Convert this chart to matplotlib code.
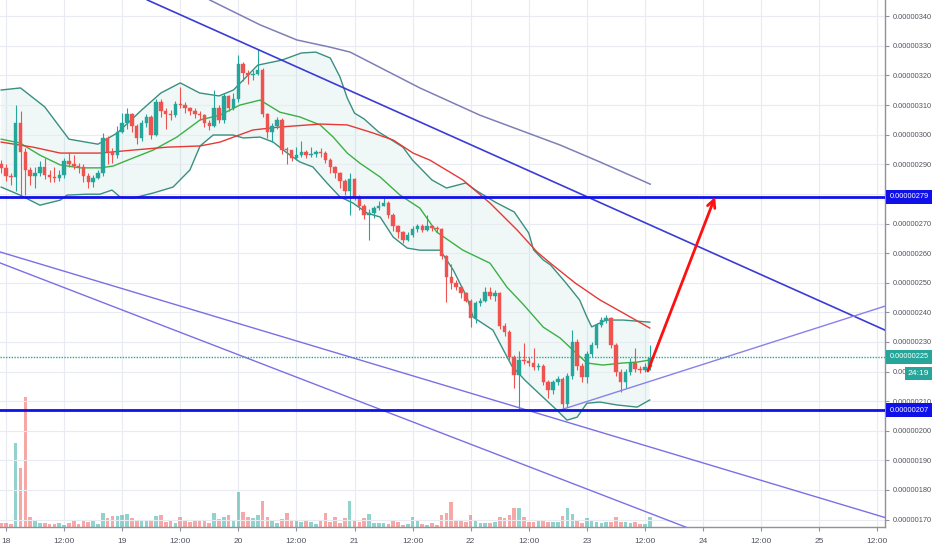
import numpy as np
import matplotlib
matplotlib.use('Agg')
import matplotlib.pyplot as plt
import matplotlib.transforms as mtrans

# prices in units of 1e-8, hours counted from day 18 00:00
first_open = 290.0
close = [288.8, 286, 285.8, 304, 294, 288, 286, 287, 289, 286.5,
         285.8, 285.5, 286.5, 291, 290, 289.5, 289, 286, 284, 285.5,
         287, 299, 294, 293, 301, 304, 307, 303, 299, 304,
         306, 300, 311, 308, 307, 306.5, 310.5, 310, 309, 308,
         307, 306.5, 304, 303, 309, 305, 313, 309, 312, 324,
         321, 320, 320.5, 322, 307, 301, 303, 305, 295, 294.8,
         292, 293, 294, 293, 293.5, 294, 293.8, 291.5, 289, 287,
         284.5, 281, 285, 279, 276, 273, 273.5, 275.3, 276, 277,
         273, 269, 267, 264.5, 266, 268, 269, 267.8, 269, 268.5,
         268, 259, 252, 250, 248.5, 246.5, 244, 238, 243, 244,
         247, 245.5, 246.5, 235.5, 233.5, 225, 219, 224, 223.5, 223,
         221.5, 222, 216.5, 213.7, 216.5, 217.5, 209, 218.4, 230, 222,
         218, 226, 229, 235.8, 237.5, 238, 229, 220, 216.5, 220,
         223, 221, 220.5, 221.5, 224.5]
high = [291.5, 290, 287, 310, 308, 295.5, 289, 289, 291, 292,
        288, 289, 288, 292, 294, 293, 290.5, 290, 287, 286.5,
        288, 300.5, 299.5, 295.5, 303, 307.5, 309, 307.5, 303.5, 305,
        307, 306.5, 312, 312, 309, 308.5, 311.5, 316, 311, 309.5,
        309, 308, 307, 305, 315, 310, 314, 313.5, 314, 327,
        324.5, 322, 322, 329, 322.5, 307.5, 304, 306, 305.5, 296,
        295, 296, 298, 295, 296, 295, 295.5, 294.5, 292, 289.5,
        287.5, 285, 287, 285.5, 279.5, 276.5, 275, 276, 277.5, 278.5,
        277.5, 273.5, 269.5, 267.5, 267, 269, 270, 270, 273, 269.5,
        269, 268.5, 259.5, 256.5, 251, 249, 247, 244.5, 244, 245,
        248.5, 248.5, 247.5, 247, 236.5, 234, 225.5, 227, 229.5, 225,
        228, 223, 222.5, 217, 217, 218.5, 218, 219.5, 234, 231,
        223, 227, 230, 236.5, 238.5, 239, 238.5, 229.5, 221, 221,
        224.5, 228, 222, 223, 229]
low = [287, 284.5, 283, 281, 279, 279.5, 283, 282, 286, 285,
       284, 284, 284.5, 285.5, 289, 288.5, 287, 284, 282, 282.5,
       285, 286, 290, 290.5, 292, 300.5, 302, 301, 297, 298,
       302.5, 298.5, 299.5, 306, 302, 305, 306, 309, 307.5, 306.5,
       305.5, 305, 302.5, 301.5, 302.5, 304, 304, 308, 308.5, 311,
       318, 317, 318.5, 320, 306, 299, 297.5, 302, 293.5, 290,
       291, 291.5, 292.5, 292, 292.5, 292.5, 292.5, 290.5, 287, 285.5,
       282, 279.5, 273, 278, 274.5, 271.5, 264.5, 272, 274.5, 276,
       272, 267.5, 265, 263.5, 264, 265.5, 267, 267, 267.5, 267.5,
       267, 258, 243.5, 248, 247.5, 245, 243.5, 235, 236.5, 242,
       243.5, 244.5, 244, 234.5, 232, 224, 214.5, 207, 222.5, 222,
       220.5, 220.5, 215.5, 211, 212.5, 215.5, 207, 208, 217.5, 220.5,
       216.5, 216, 225, 228, 235, 236.5, 228, 218.5, 213, 214.5,
       219, 220, 219.5, 220, 220.5]
volume = [4.3, 3.7, 3, 83.7, 58.7, 130, 10.3, 7, 4.3, 3.7,
          3, 3, 3.7, 2.3, 3.7, 6.3, 3, 5.7, 5, 6.3,
          3, 14.3, 9, 11, 11, 11.7, 13, 9, 5.7, 7,
          5.7, 5.7, 11, 11.7, 5, 5.7, 3.7, 9.7, 5.7, 5,
          5.7, 5.7, 5.7, 3.7, 14.3, 8.3, 10.3, 12.3, 7, 35,
          15, 9.7, 9, 12.3, 26.3, 9.7, 7, 3.7, 8.3, 13.7,
          6.3, 5.7, 5, 7, 5, 3, 5.7, 13.7, 5.3, 9.7,
          3.7, 9, 26.3, 7, 5, 9, 13, 3.7, 3.7, 3.7,
          3, 7, 5, 2, 3, 9.7, 7, 3, 2, 3.7,
          2, 12, 14.3, 24.7, 7, 7, 5.3, 11.7, 7, 3.7,
          4.3, 3.7, 5.3, 9.7, 9, 12, 18.7, 19.3, 10.3, 5,
          5, 7, 7, 5, 5, 5, 11, 18.7, 13, 7,
          3.7, 9, 7, 5, 3.7, 5, 5, 10.3, 5.3, 5,
          3.7, 5.3, 3, 3, 9.7]

# Bollinger bands and moving average
bb_up_h = [-1, 3, 8, 13, 19, 23, 28, 32, 36, 40, 44, 47, 52, 57, 61, 64, 67, 69,
           70.5, 72, 74, 77, 79, 82, 84, 88, 91, 95, 97, 101, 105, 108, 109, 111,
           112.5, 115.5, 118.5, 120, 121, 124, 127.5, 133]
bb_up = [315.1, 315.8, 309.4, 298.5, 296.8, 300.6, 308.3, 314.1, 317.5, 314.1,
         313.1, 315.1, 323.5, 325.2, 327.6, 327.9, 325.9, 319.5, 312.4, 307.3,
         305.3, 300.9, 298.9, 295.8, 291.4, 284.7, 282.0, 283.7, 281.3, 277.3,
         273.9, 266.8, 261.1, 257.7, 256.0, 250.3, 244.2, 238.5, 235.1, 237.4,
         237.4, 236.7]
bb_lo_h = [-1, 2.9, 7, 11.2, 12.6, 16.7, 19.4, 21.9, 23.6, 26.2, 30.4, 34.5, 38,
           40.1, 42.8, 46.9, 49, 52.5, 55.2, 58.1, 60.7, 63.4, 66.3, 69, 71.7,
           74.6, 77.3, 80, 82.9, 85.5, 89.7, 92.4, 95.2, 96.5, 100.6, 104.5,
           107.2, 110.7, 113.8, 115.9, 118, 120, 122.7, 126.3, 130.4, 133]
bb_lo = [282.3, 279.6, 276.2, 277.9, 279.6, 279.9, 279.9, 281.3, 278.9, 278.6,
         280.3, 282.3, 288.1, 296.2, 299.9, 299.9, 298.9, 299.2, 297.5, 293.8,
         290.8, 289.1, 283.7, 279.0, 276.9, 273.5, 272.2, 265.4, 261.7, 261.0,
         261.0, 254.3, 245.2, 238.4, 234.0, 221.9, 217.1, 211.7, 207.0, 203.6,
         204.6, 209.3, 209.7, 208.7, 208.0, 210.4]
bb_mid_h = [-1, 2.9, 7, 11.2, 15.3, 19.4, 22.1, 26.2, 30.4, 35.3, 40.1, 44.2,
            48.3, 52.5, 56.6, 60.7, 64.9, 67.6, 70.5, 73.1, 77.3, 81.4, 85.5,
            89, 94.4, 100, 103.5, 106.8, 111, 114.5, 117.1, 120, 123.3, 127.5,
            130.4, 133]
bb_mid = [298.5, 297.2, 293.1, 289.8, 288.8, 288.8, 289.4, 292.1, 294.8, 299.2,
          305.0, 306.6, 310.0, 311.7, 307.6, 306.0, 303.3, 299.2, 293.8, 290.4,
          285.7, 279.6, 275.2, 267.1, 261.0, 256.6, 248.5, 242.8, 235.0, 231.3,
          227.3, 222.9, 222.2, 222.9, 223.2, 223.9]
ma_h = [-1, 5.6, 11.2, 19.4, 26.2, 33.3, 40.1, 44.2, 51, 56.6, 64.9, 70.5, 75.8,
        80, 84.1, 87.6, 94.4, 100, 105.6, 109.7, 112.4, 117.6, 122.7, 127.5, 133]
ma = [297.5, 295.8, 293.8, 293.8, 294.8, 295.8, 296.2, 297.5, 301.6, 302.6,
      303.6, 303.3, 300.6, 298.2, 293.8, 291.4, 284.7, 276.9, 267.8, 260.4,
      256.7, 249.9, 244.2, 239.8, 234.7]

# drawn lines (hour, price)
down_blue = ([29.2, 181.6], [345.5, 234.0])
channel_top_h = [42.1, 46.3, 52.5, 60.1, 66.9, 71.1, 85.5, 97.9, 114.5, 122.7, 133.1]
channel_top = [345.5, 342.1, 337.1, 332.0, 329.6, 327.9, 315.8, 306.6, 296.5, 290.8, 283.3]
lower_a = ([-1.24, 181.6], [260.4, 170.7])
lower_b = ([-1.24, 140.7], [256.7, 167.3])
rising = ([114.5, 181.6], [207.0, 242.1])
arrow_from = (132.6, 220.2)
arrow_to = (146.5, 279.0)
resistance = 279
support = 207
last_price = 225
countdown = '24:19'

green = '#26a69a'
red = '#ef5350'
txt = '#50535e'
font = ['Liberation Sans', 'DejaVu Sans']
fs = 5.3

n = len(close)
hours = np.arange(n) - 1
c = np.array(close)
o = np.r_[first_open, c[:-1]]
up = c >= o
cols = np.where(up, green, red)

fig = plt.figure(figsize=(9.32, 5.5), dpi=100)
rect = [0, 23 / 550, 885 / 932, 527 / 550]
axv = fig.add_axes(rect)
ax = fig.add_axes(rect, sharex=axv)
ax.patch.set_visible(False)

axv.set_ylim(0, 527)
axv.set_xticks(np.arange(0, 181, 12))
axv.grid(True, axis='x', color='#e9ebf2', lw=0.8, zorder=0)
axv.set_axisbelow(True)
axv.bar(hours, volume, width=0.75, color=cols, alpha=0.5, linewidth=0, zorder=2)
axv.tick_params(left=False, bottom=False, labelleft=False, labelbottom=False)
for s in axv.spines.values():
    s.set_visible(False)

ax.set_xlim(-1.24, 181.6)
ax.set_ylim(167.5, 345.5)

ax.set_yticks(np.arange(170, 341, 10))
ax.set_xticks(np.arange(0, 181, 12))
ax.grid(True, axis='y', color='#e9ebf2', lw=0.8, zorder=0)

# bollinger fill and lines
ax.fill(np.r_[bb_up_h, bb_lo_h[::-1]], np.r_[bb_up, bb_lo[::-1]],
        color=green, alpha=0.07, lw=0, zorder=1)
ax.plot(bb_up_h, bb_up, color='#3a8f80', lw=1, zorder=2)
ax.plot(bb_lo_h, bb_lo, color='#3a8f80', lw=1, zorder=2)
ax.plot(bb_mid_h, bb_mid, color='#3cb043', lw=1, zorder=2)
ax.plot(ma_h, ma, color='#e53935', lw=1, zorder=2)

# candles
ax.vlines(hours, low, high, colors=cols, lw=0.8, zorder=3)
body = np.abs(c - o)
ax.bar(hours, np.maximum(body, 0.3), bottom=np.minimum(c, o), width=0.72,
       color=cols, edgecolor=cols, lw=0.3, zorder=4)

# trend lines
ax.plot(*down_blue, color='#3b3bd6', lw=1.2, zorder=5)
ax.plot(channel_top_h, channel_top, color='#7f7fb8', lw=1.1, zorder=5)
ax.plot(*lower_a, color='#7b6fe6', lw=1, zorder=5)
ax.plot(*lower_b, color='#7b6fe6', lw=1, zorder=5)
ax.plot(*rising, color='#8a80ec', lw=1, zorder=5)
ax.axhline(resistance, color='#1010e8', lw=2, zorder=6)
ax.axhline(support, color='#1010e8', lw=2, zorder=6)
ax.axhline(last_price, color=green, lw=1, ls=(0, (1, 1)), zorder=6)
ax.annotate('', xy=arrow_to, xytext=arrow_from, zorder=7,
            arrowprops=dict(arrowstyle='->', color='#ff1010', lw=2,
                            mutation_scale=14, shrinkA=0, shrinkB=0))

# axes styling
for s in ['top', 'left']:
    ax.spines[s].set_visible(False)
for s in ['right', 'bottom']:
    ax.spines[s].set_color('#8f929b')
    ax.spines[s].set_linewidth(1)
ax.yaxis.tick_right()
ax.tick_params(axis='both', colors='#8f929b', length=3, width=0.8,
               labelcolor=txt, labelsize=fs)
ax.set_yticklabels([f'{v / 1e8:.8f}' for v in np.arange(170, 341, 10)],
                   family=font)
ax.set_xticklabels([str(18 + h // 24) if h % 24 == 0 else '12:00'
                    for h in np.arange(0, 181, 12)], family=font)
ax.tick_params(axis='x', pad=5, labelsize=6)
ax.tick_params(axis='y', pad=2.5)

# price boxes on the scale
tr = mtrans.blended_transform_factory(ax.transAxes, ax.transData)
for val, fc in [(resistance, '#1010e8'), (support, '#1010e8'), (last_price, green)]:
    ax.text(1.0 + 4.5 / 885, val, f'{val / 1e8:.8f}', transform=tr, ha='left',
            va='center', color='white', fontsize=fs, family=font,
            bbox=dict(boxstyle='square,pad=0.45', fc=fc, ec='none'),
            clip_on=False, zorder=10)
ax.text(1.0 + 23 / 885, 219.4, countdown, transform=tr, ha='left', va='center',
        color='white', fontsize=fs + 0.8, family=font,
        bbox=dict(boxstyle='square,pad=0.35', fc=green, ec='none'),
        clip_on=False, zorder=10)

fig.savefig('out.png', dpi=100, facecolor='white')
